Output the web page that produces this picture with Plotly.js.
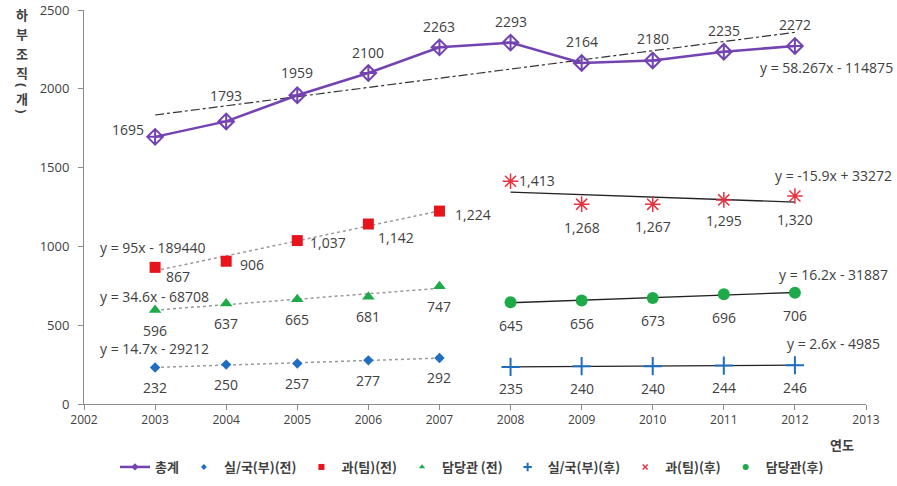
<!DOCTYPE html>
<html>
<head>
<meta charset="utf-8">
<script src="https://cdn.plot.ly/plotly-3.0.1.min.js"></script>
<style>
  html, body { margin: 0; padding: 0; background: #fff; }
  #chart { width: 897px; height: 486px; }
</style>
</head>
<body>
<div id="chart"></div>
<script>
// ---- data ----
const years     = [2003, 2004, 2005, 2006, 2007, 2008, 2009, 2010, 2011, 2012];
const preYears  = [2003, 2004, 2005, 2006, 2007];
const postYears = [2008, 2009, 2010, 2011, 2012];

const total    = [1695, 1793, 1959, 2100, 2263, 2293, 2164, 2180, 2235, 2272];
const silPre   = [232, 250, 257, 277, 292];
const gwaPre   = [867, 906, 1037, 1142, 1224];
const damPre   = [596, 637, 665, 681, 747];
const silPost  = [235, 240, 240, 244, 246];
const gwaPost  = [1413, 1268, 1267, 1295, 1320];
const damPost  = [645, 656, 673, 696, 706];

// linear trend coefficients [slope, intercept]
const totalTrend   = [58.267, -114875];
const gwaPreTrend  = [95, -189440];
const damPreTrend  = [34.6, -68708];
const silPreTrend  = [14.7, -29212];
const gwaPostTrend = [-15.9, 33272];
const damPostTrend = [16.2, -31887];
const silPostTrend = [2.6, -4985];

const names = ['총계', '실/국(부)(전)', '과(팀)(전)', '담당관 (전)', '실/국(부)(후)', '과(팀)(후)', '담당관(후)'];
const xTickLabels = ['2002','2003','2004','2005','2006','2007','2008','2009','2010','2011','2012','2013'];
const yTickLabels = ['0','500','1000','1500','2000','2500'];
const yTitle = ['하', '부', '조', '직', '(', '개', ')'];

// ---- styles ----
const PURPLE = '#7443B2', BLUE = '#1F6EC1', RED = '#E8141C', GREEN = '#1EAA48', RED2 = '#E63340';
const TXT = '#404040';
const NUMFONT = 'Open Sans, Liberation Sans, sans-serif';
const KRFONT = 'Noto Sans CJK KR, sans-serif';

function trendLine(coef, xs, dash, color, width) {
  const x0 = xs[0], x1 = xs[xs.length - 1];
  return {
    x: [x0, x1], y: [coef[0] * x0 + coef[1], coef[0] * x1 + coef[1]],
    mode: 'lines', line: {color: color, width: width, dash: dash},
    showlegend: false, hoverinfo: 'skip'
  };
}

// plotted series (legend drawn by the small-symbol entries below)
const series = [
  {x: years, y: total, mode: 'lines+markers',
   line: {color: PURPLE, width: 2.5},
   marker: {symbol: 'diamond-cross-open', size: 12, color: PURPLE, line: {width: 2, color: PURPLE}}},
  {x: preYears, y: silPre, mode: 'markers',
   marker: {symbol: 'diamond', size: 8, color: BLUE}},
  {x: preYears, y: gwaPre, mode: 'markers',
   marker: {symbol: 'square', size: 11, color: RED}},
  {x: preYears, y: damPre, mode: 'markers',
   marker: {symbol: 'triangle-up', size: 11, color: GREEN}},
  {x: postYears, y: silPost, mode: 'markers',
   marker: {symbol: 'cross-thin-open', size: 13, color: BLUE, line: {width: 2, color: BLUE}}},
  {x: postYears, y: gwaPost, mode: 'markers',
   marker: {symbol: 'asterisk-open', size: 13, color: RED2, line: {width: 1.5, color: RED2}}},
  {x: postYears, y: damPost, mode: 'markers',
   marker: {symbol: 'circle', size: 12, color: GREEN}}
];
series.forEach(s => { s.showlegend = false; });

// legend entries with compact symbols
const legendSyms = [
  {symbol: 'diamond-open', size: 4, color: PURPLE, line: {width: 1.5, color: PURPLE}},
  {symbol: 'diamond', size: 4.5, color: BLUE},
  {symbol: 'square', size: 6, color: RED},
  {symbol: 'triangle-up', size: 5.5, color: GREEN},
  {symbol: 'cross-thin-open', size: 6, color: BLUE, line: {width: 2, color: BLUE}},
  {symbol: 'x-thin-open', size: 5, color: RED2, line: {width: 1.5, color: RED2}},
  {symbol: 'circle', size: 6, color: GREEN}
];
const legendEntries = names.map((n, i) => ({
  x: [null], y: [null], name: n,
  mode: i === 0 ? 'lines+markers' : 'markers',
  line: {color: PURPLE, width: 2.5},
  marker: legendSyms[i], hoverinfo: 'skip'
}));

const traces = [
  trendLine(totalTrend, years, 'dashdot', '#333333', 1.2),
  trendLine(gwaPreTrend, preYears, 'dot', '#9a9a9a', 1.5),
  trendLine(damPreTrend, preYears, 'dot', '#9a9a9a', 1.5),
  trendLine(silPreTrend, preYears, 'dot', '#9a9a9a', 1.5),
  trendLine(gwaPostTrend, postYears, 'solid', '#222222', 1.3),
  trendLine(damPostTrend, postYears, 'solid', '#222222', 1.3),
  trendLine(silPostTrend, postYears, 'solid', '#222222', 1.3)
].concat(series, legendEntries);

// ---- value labels (offsets in px: dx right, dy down) ----
const annotations = [];
function labels(xs, ys, dx, dy, fmt) {
  xs.forEach((x, i) => {
    annotations.push({
      x: x, y: ys[i], xref: 'x', yref: 'y', showarrow: false,
      xanchor: 'center', yanchor: 'middle',
      text: fmt ? ys[i].toLocaleString('en-US') : String(ys[i]),
      xshift: Array.isArray(dx) ? dx[i] : dx,
      yshift: -(Array.isArray(dy) ? dy[i] : dy),
      font: {family: NUMFONT, size: 14, color: TXT}
    });
  });
}
labels(years, total, [-27, 0, 0, 0, 0, 0, 0, 0, 0, 0], [-7, -26, -23, -21, -21, -21, -21, -22, -21, -21], false);
labels(preYears, gwaPre, [23, 26, 31, 28, 34], [9, 3, 2, 13, 3], true);
labels(preYears, damPre, 0, 20, false);
labels(preYears, silPre, 0, 20, false);
labels(postYears, gwaPost, [26, 0, 0, 0, 0], [-1, 23, 22, 21, 24], true);
labels(postYears, damPost, 0, 23, false);
labels(postYears, silPost, 0, 22, false);

// trend equations
const eqs = [
  ['y = 58.267x - 114875', 2011.48, 2138],
  ['y = -15.9x + 33272', 2011.69, 1453],
  ['y = 16.2x - 31887', 2011.75, 819],
  ['y = 2.6x - 4985', 2011.86, 387],
  ['y = 95x - 189440', 2002.2, 996],
  ['y = 34.6x - 68708', 2002.2, 679],
  ['y = 14.7x - 29212', 2002.2, 355]
];
eqs.forEach(e => annotations.push({
  x: e[1], y: e[2], xref: 'x', yref: 'y', xanchor: 'left', yanchor: 'middle', showarrow: false,
  text: e[0], font: {family: NUMFONT, size: 14, color: TXT}
}));

// axis titles
const L = 84, R = 31, T = 10, B = 82, W = 897, H = 486;
const PW = W - L - R, PH = H - T - B;
annotations.push({x: 2012.66, y: -(445 - (H - B)) / PH, xref: 'x', yref: 'paper',
  xanchor: 'center', yanchor: 'middle', showarrow: false,
  text: '<b>연도</b>', font: {family: KRFONT, size: 13, color: TXT}});
// vertical y title: upright glyphs stacked, parentheses turned sideways
const yTitleRows = [15, 34, 53, 72, 85, 98, 111];
yTitle.forEach((c, i) => {
  const paren = (c === '(' || c === ')');
  annotations.push({
    x: (22 - L) / PW, y: ((H - B) - yTitleRows[i]) / PH, xref: 'paper', yref: 'paper',
    xanchor: 'center', yanchor: 'middle', showarrow: false,
    text: '<b>' + c + '</b>', textangle: paren ? 90 : 0,
    font: {family: paren ? NUMFONT : KRFONT, size: 13, color: TXT}
  });
});

const layout = {
  width: W, height: H,
  margin: {l: L, r: R, t: T, b: B, autoexpand: false},
  paper_bgcolor: '#fff', plot_bgcolor: '#fff',
  font: {family: NUMFONT, color: TXT, size: 13},
  xaxis: {
    range: [2002, 2013], tickvals: xTickLabels.map(Number), ticktext: xTickLabels,
    showgrid: false, zeroline: false, showline: true, linecolor: '#8a8a8a', linewidth: 1,
    ticks: 'outside', ticklen: 5, tickcolor: '#8a8a8a', automargin: false,
    tickfont: {family: NUMFONT, size: 12, color: TXT}
  },
  yaxis: {
    range: [0, 2500], tickvals: yTickLabels.map(Number), ticktext: yTickLabels,
    showgrid: false, zeroline: false, showline: true, linecolor: '#8a8a8a', linewidth: 1,
    ticks: 'outside', ticklen: 5, tickcolor: '#8a8a8a', automargin: false,
    ticklabelstandoff: 6,
    tickfont: {family: NUMFONT, size: 13, color: TXT}
  },
  showlegend: true,
  legend: {
    orientation: 'h', x: (472 - L) / PW, xanchor: 'center',
    y: -(467 - (H - B)) / PH, yanchor: 'middle',
    font: {family: KRFONT, size: 13, color: TXT, weight: 'bold'},
    itemsizing: 'trace', traceorder: 'normal'
  },
  annotations: annotations
};

Plotly.newPlot('chart', traces, layout, {displayModeBar: false, staticPlot: true});
</script>
</body>
</html>
